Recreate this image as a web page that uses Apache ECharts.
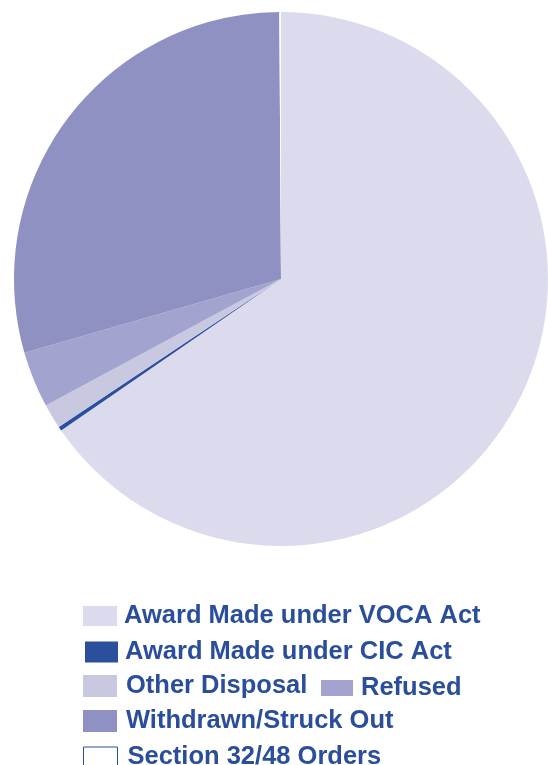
<!DOCTYPE html>
<html>
<head>
<meta charset="utf-8">
<script src="https://cdn.jsdelivr.net/npm/echarts@6/dist/echarts.min.js"></script>
<style>html,body{margin:0;padding:0;background:#fff;}#c{width:548px;height:765px;}</style>
</head>
<body>
<div id="c"></div>
<script>
const categories = ['Award Made under VOCA Act','Award Made under CIC Act','Other Disposal','Refused','Withdrawn/Struck Out','Section 32/48 Orders'];
const values = [65.4, 0.25, 1.5, 3.4, 29.35, 0.1];
const colors = ['#DCDBEE','#2A4F9C','#C9C8E1','#A3A3D0','#8E91C1','#FFFFFF'];
const textColor = '#2A4E9B';

const chart = echarts.init(document.getElementById('c'), null, {renderer:'canvas'});
const ts = {fontSize:25.5, fontWeight:'bold', color:textColor, fontFamily:'Liberation Sans, Arial, sans-serif', lineHeight:20, padding:[0,0,0,2]};
function lg(names, left, top, extra){
  return Object.assign({
    data: names.map(n => n === categories[5]
      ? {name:n, icon:'rect', itemStyle:{color:'#fff', borderColor:textColor, borderWidth:1}}
      : {name:n, icon:'rect'}),
    left: left, top: top, orient:'horizontal', padding:0,
    itemWidth:34, itemHeight:20, itemGap:10,
    textStyle: ts, selectedMode:false
  }, extra||{});
}
chart.setOption({
  animation:false,
  color: colors,
  legend: [
    lg([categories[0]], 83, 603),
    lg([categories[1]], 85, 639, {itemWidth:33, itemHeight:21}),
    lg([categories[2]], 83, 673, {itemHeight:22, textStyle:Object.assign({}, ts, {padding:[0,0,0,4]})}),
    lg([categories[3]], 321, 675, {itemWidth:32, itemHeight:16, textStyle:Object.assign({}, ts, {padding:[0,0,0,3]})}),
    lg([categories[4]], 83, 708, {itemHeight:22, textStyle:Object.assign({}, ts, {padding:[0,0,0,4]})}),
    lg([categories[5]], 83, 744, {textStyle:Object.assign({}, ts, {padding:[0,0,0,5]})})
  ],
  series: [{
    type:'pie',
    center:[281,279],
    radius:267,
    startAngle:90,
    clockwise:true,
    silent:true,
    label:{show:false},
    labelLine:{show:false},
    itemStyle:{borderWidth:0},
    data: categories.map((c,i)=>({name:c, value:values[i], itemStyle:{color:colors[i]}}))
  }]
});
</script>
</body>
</html>
